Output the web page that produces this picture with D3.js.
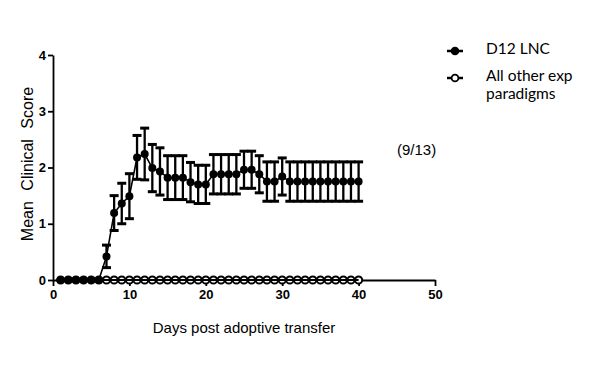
<!DOCTYPE html>
<html>
<head>
<meta charset="utf-8">
<script src="https://cdnjs.cloudflare.com/ajax/libs/d3/7.8.5/d3.min.js"></script>
<style>
  body { margin: 0; background: #fff; }
  svg { display: block; }
</style>
</head>
<body>
<div id="chart"></div>
<script>
var days = [1, 2, 3, 4, 5, 6, 7, 8, 9, 10, 11, 12, 13, 14, 15, 16, 17, 18, 19, 20,
            21, 22, 23, 24, 25, 26, 27, 28, 29, 30, 31, 32, 33, 34, 35, 36, 37, 38, 39, 40];
var d12Mean = [0, 0, 0, 0, 0, 0, 0.42, 1.19, 1.36, 1.49, 2.18, 2.24, 1.99, 1.93, 1.82, 1.82, 1.82, 1.74, 1.70, 1.70,
               1.88, 1.88, 1.88, 1.88, 1.96, 1.96, 1.88, 1.75, 1.75, 1.84, 1.75, 1.75, 1.75, 1.75, 1.75, 1.75, 1.75, 1.75, 1.75, 1.75];
var d12Sem = [0, 0, 0, 0, 0, 0, 0.2, 0.31, 0.36, 0.4, 0.39, 0.46, 0.42, 0.42, 0.39, 0.39, 0.39, 0.35, 0.34, 0.34,
              0.35, 0.35, 0.35, 0.35, 0.33, 0.33, 0.33, 0.35, 0.35, 0.33, 0.35, 0.35, 0.35, 0.35, 0.35, 0.35, 0.35, 0.35, 0.35, 0.35];
var otherMean = [0, 0, 0, 0, 0, 0, 0, 0, 0, 0, 0, 0, 0, 0, 0, 0, 0, 0, 0, 0,
                 0, 0, 0, 0, 0, 0, 0, 0, 0, 0, 0, 0, 0, 0, 0, 0, 0, 0, 0, 0];
var xTicks = [0, 10, 20, 30, 40, 50];
var yTicks = [0, 1, 2, 3, 4];
var seriesNames = ['D12 LNC', 'All other exp paradigms'];
var note = '(9/13)';

var svg, chart, x, y, line, d12, other, eb, drawAxes, drawLegend;

svg = d3.select('#chart').append('svg').attr('width', 600).attr('height', 378);
x = d3.scaleLinear().domain([0, 50]).range([53, 435]);
y = d3.scaleLinear().domain([0, 4]).range([280, 55]);

line = d3.line().x(function(d) { return x(d.day); }).y(function(d) { return y(d.v); });

d12 = days.map(function(d, i) { return {day: d, v: d12Mean[i], e: d12Sem[i]}; });
other = days.map(function(d, i) { return {day: d, v: otherMean[i]}; });

drawAxes = function() {
  var gx, gy;
  gy = svg.append('g').attr('transform', 'translate(53,0)')
    .call(d3.axisLeft(y).tickValues(yTicks).tickSize(5).tickSizeOuter(0).tickPadding(2).tickFormat(d3.format('d')));
  gx = svg.append('g').attr('transform', 'translate(0,280)')
    .call(d3.axisBottom(x).tickValues(xTicks).tickSize(6).tickSizeOuter(0).tickPadding(4).tickFormat(d3.format('d')));
  [gx, gy].forEach(function(g) {
    g.select('.domain').attr('stroke', '#000').attr('stroke-width', 1.8);
    g.selectAll('.tick line').attr('stroke', '#000').attr('stroke-width', 1.8);
    g.selectAll('text').attr('font-family', 'Liberation Sans, Arial').attr('font-size', 13)
      .attr('font-weight', 'bold').attr('fill', '#000');
  });
  svg.append('text').attr('x', 244).attr('y', 333).attr('text-anchor', 'middle')
    .attr('font-family', 'Liberation Sans, Arial').attr('font-size', 15).text('Days post adoptive transfer');
  svg.append('text').attr('transform', 'translate(33,164) rotate(-90)').attr('text-anchor', 'middle')
    .attr('font-family', 'Liberation Sans, Arial').attr('font-size', 16).attr('word-spacing', 6)
    .text('Mean Clinical Score');
};

drawAxes();

chart = svg.append('g');

// other paradigms: open circles along zero
chart.selectAll('circle.other').data(other).enter().append('circle').attr('class', 'other')
  .attr('cx', function(d) { return x(d.day); }).attr('cy', function(d) { return y(d.v); })
  .attr('r', 3.6).attr('fill', '#fff').attr('stroke', '#000').attr('stroke-width', 2);
chart.append('path').datum(other).attr('d', line).attr('fill', 'none').attr('stroke', '#000').attr('stroke-width', 1.8);

// D12 LNC: error bars, line, filled circles
eb = chart.selectAll('g.eb').data(d12.filter(function(d) { return d.e > 0; })).enter().append('g').attr('class', 'eb');
eb.append('line').attr('x1', function(d) { return x(d.day); }).attr('x2', function(d) { return x(d.day); })
  .attr('y1', function(d) { return y(d.v + d.e); }).attr('y2', function(d) { return y(d.v - d.e); })
  .attr('stroke', '#000').attr('stroke-width', 2.3);
[1, -1].forEach(function(s) {
  eb.append('line').attr('x1', function(d) { return x(d.day) - 4.5; }).attr('x2', function(d) { return x(d.day) + 4.5; })
    .attr('y1', function(d) { return y(d.v + s * d.e); }).attr('y2', function(d) { return y(d.v + s * d.e); })
    .attr('stroke', '#000').attr('stroke-width', 3);
});
chart.append('path').datum(d12).attr('d', line).attr('fill', 'none').attr('stroke', '#000').attr('stroke-width', 1.6);
chart.selectAll('circle.d12').data(d12).enter().append('circle').attr('class', 'd12')
  .attr('cx', function(d) { return x(d.day); }).attr('cy', function(d) { return y(d.v); })
  .attr('r', 4).attr('fill', '#000');

svg.append('text').attr('x', 397).attr('y', 155).attr('font-family', 'Liberation Sans, Arial')
  .attr('font-size', 15).text(note);

drawLegend = function() {
  var rows = [{y: 51, fill: '#000', lines: [seriesNames[0]]}, {y: 78, fill: '#fff', lines: ['All other exp', 'paradigms']}];
  rows.forEach(function(r) {
    var g, t;
    g = svg.append('g');
    g.append('line').attr('x1', 447).attr('x2', 463).attr('y1', r.y).attr('y2', r.y).attr('stroke', '#000').attr('stroke-width', 2.5);
    g.append('circle').attr('cx', 455).attr('cy', r.y).attr('r', 3.4).attr('fill', r.fill).attr('stroke', '#000').attr('stroke-width', 1.8);
    t = g.append('text').attr('x', 486).attr('y', r.y + 2.5).attr('font-family', 'Lato, Carlito, sans-serif')
      .attr('font-size', 15.5).attr('fill', '#000');
    t.selectAll('tspan').data(r.lines).enter().append('tspan').attr('x', 486)
      .attr('dy', function(d, j) { return j === 0 ? 0 : 18; }).text(function(d) { return d; });
  });
};

drawLegend();
</script>
</body>
</html>
